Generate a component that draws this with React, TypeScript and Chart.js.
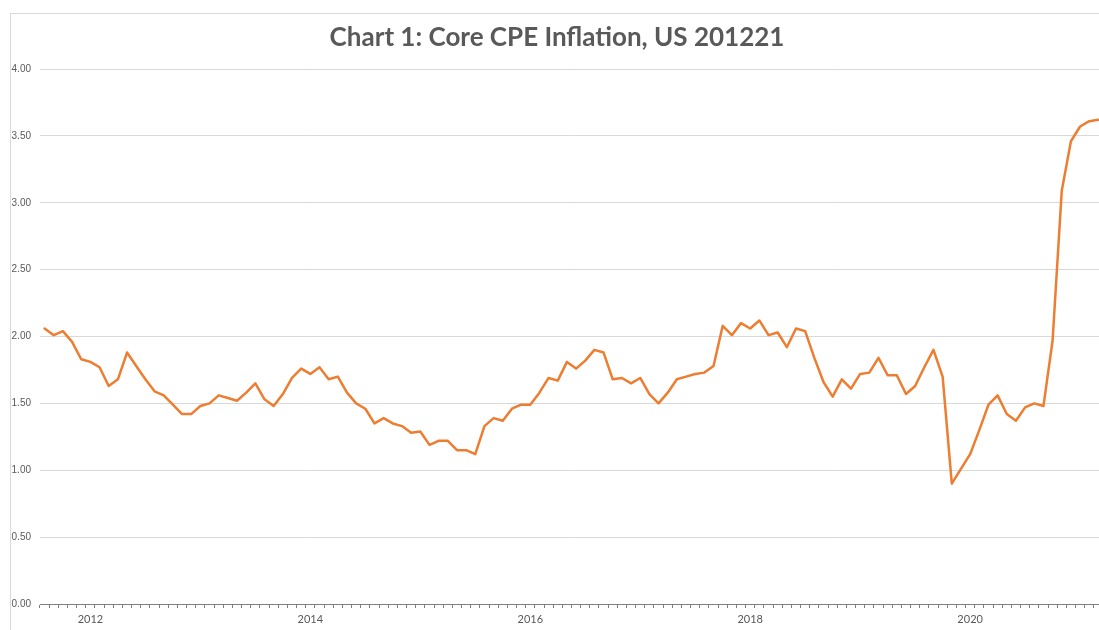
import React, { useEffect, useRef } from 'react';
import { Chart, registerables } from 'chart.js';

Chart.register(...registerables);

// First month shown on the axis and number of monthly observations
const startYear = 2011;
const startMonth = 8; // August
const yearLabels = ['2012', '2014', '2016', '2018', '2020'];

// Core PCE inflation, % y/y, monthly
const coreInflation = [
  2.06, 2.01, 2.04, 1.96, 1.83, 1.81, 1.77, 1.63, 1.68, 1.88,
  1.78, 1.68, 1.59, 1.56, 1.49, 1.42, 1.42, 1.48, 1.50, 1.56,
  1.54, 1.52, 1.58, 1.65, 1.53, 1.48, 1.57, 1.69, 1.76, 1.72,
  1.77, 1.68, 1.70, 1.58, 1.50, 1.46, 1.35, 1.39, 1.35, 1.33,
  1.28, 1.29, 1.19, 1.22, 1.22, 1.15, 1.15, 1.12, 1.33, 1.39,
  1.37, 1.46, 1.49, 1.49, 1.58, 1.69, 1.67, 1.81, 1.76, 1.82,
  1.90, 1.88, 1.68, 1.69, 1.65, 1.69, 1.57, 1.50, 1.58, 1.68,
  1.70, 1.72, 1.73, 1.78, 2.08, 2.01, 2.10, 2.06, 2.12, 2.01,
  2.03, 1.92, 2.06, 2.04, 1.84, 1.66, 1.55, 1.68, 1.61, 1.72,
  1.73, 1.84, 1.71, 1.71, 1.57, 1.63, 1.77, 1.90, 1.70, 0.90,
  1.01, 1.12, 1.30, 1.49, 1.56, 1.42, 1.37, 1.47, 1.50, 1.48,
  1.97, 3.09, 3.46, 3.57, 3.61, 3.62,
];

const categories: string[] = coreInflation.map((_, i) => {
  const m = startMonth - 1 + i;
  const y = startYear + Math.floor(m / 12);
  const mm = (m % 12) + 1;
  return `${y}-${mm < 10 ? '0' + mm : mm}`;
});

export default function App() {
  const canvasRef = useRef<HTMLCanvasElement | null>(null);

  useEffect(() => {
    if (!canvasRef.current) return;
    const chart = new Chart(canvasRef.current, {
      type: 'line',
      data: {
        labels: categories,
        datasets: [
          {
            label: 'Core PCE',
            data: coreInflation,
            borderColor: '#ED7D31',
            backgroundColor: '#ED7D31',
            borderWidth: 2.5,
            pointRadius: 0,
            tension: 0,
            borderJoinStyle: 'round',
            borderCapStyle: 'round',
          },
        ],
      },
      options: {
        animation: false,
        responsive: false,
        devicePixelRatio: 1,
        layout: { padding: { left: 0, right: 4, top: 0, bottom: 0 } },
        plugins: {
          legend: { display: false },
          tooltip: { enabled: false },
          title: {
            display: true,
            text: 'Chart 1: Core CPE Inflation, US 201221',
            color: '#595959',
            font: { family: 'Lato', size: 26, weight: 'bold' },
            padding: { top: 8.4, bottom: 15.4 },
          },
        },
        scales: {
          x: {
            type: 'category',
            offset: true,
            grid: {
              offset: true,
              drawOnChartArea: false,
              drawTicks: true,
              tickLength: 4,
              color: '#808080',
            },
            border: { display: true, color: '#808080', width: 1 },
            ticks: {
              autoSkip: false,
              maxRotation: 0,
              minRotation: 0,
              padding: 5,
              color: '#595959',
              font: { family: 'Lato', size: 11 },
              callback: (_v: any, i: number) => {
                const c = categories[i];
                const yr = c.slice(0, 4);
                return c.endsWith('-01') && yearLabels.includes(yr) ? yr : '';
              },
            },
            afterFit: (s: any) => {
              s.height = 50;
            },
          },
          y: {
            min: 0,
            max: 4,
            grid: { color: '#d9d9d9', drawTicks: false, lineWidth: 1 },
            border: { display: false },
            ticks: {
              stepSize: 0.5,
              padding: 9,
              color: '#595959',
              font: { family: 'Liberation Sans', size: 10 },
              callback: (v: any) => Number(v).toFixed(2),
            },
            afterFit: (s: any) => {
              s.width = 29;
            },
          },
        },
      },
    });
    return () => chart.destroy();
  }, []);

  return (
    <div
      style={{
        position: 'fixed',
        left: 0,
        top: 0,
        width: 1099,
        height: 630,
        overflow: 'hidden',
        background: '#ffffff',
      }}
    >
      <div
        style={{
          position: 'absolute',
          left: 10,
          top: 13,
          width: 1096,
          height: 640,
          border: '1px solid #d9d9d9',
          background: '#ffffff',
        }}
      >
        <canvas ref={canvasRef} width={1096} height={640} style={{ display: 'block' }} />
      </div>
    </div>
  );
}
